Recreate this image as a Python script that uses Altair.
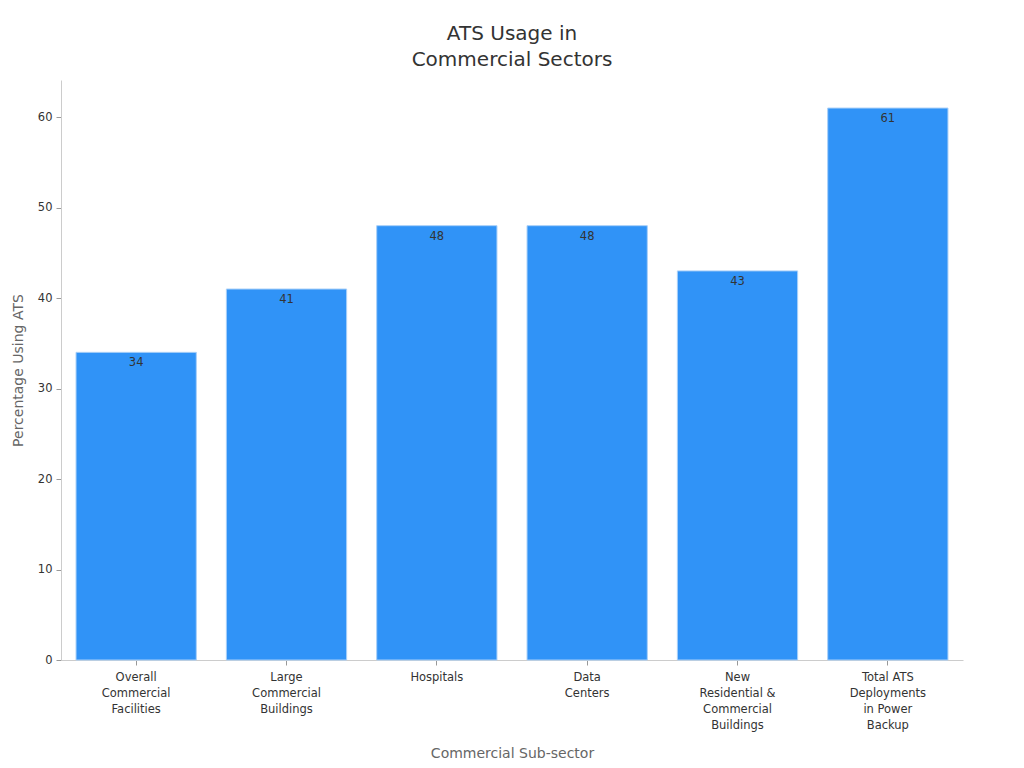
import altair as alt
import pandas as pd

categories = [
    "Overall|Commercial|Facilities",
    "Large|Commercial|Buildings",
    "Hospitals",
    "Data|Centers",
    "New|Residential &|Commercial|Buildings",
    "Total ATS|Deployments|in Power|Backup",
]
values = [34, 41, 48, 48, 43, 61]

df = pd.DataFrame({"cat": categories, "val": values})

FONT = "DejaVu Sans"

x = alt.X("cat:N", sort=categories, title="Commercial Sub-sector",
          scale=alt.Scale(paddingInner=0.2, paddingOuter=0.1),
          axis=alt.Axis(labelAngle=0, labelExpr="split(datum.label, '|')",
                        labelFontSize=11.5, labelColor="#333", labelLineHeight=16,
                        titleFontSize=14, titleColor="#666", titleFontWeight="normal",
                        titlePadding=16, domainColor="#ccc", tickColor="#999",
                        tickSize=5, labelPadding=6))
y = alt.Y("val:Q", title="Percentage Using ATS",
          scale=alt.Scale(domain=[0, 64.1], nice=False),
          axis=alt.Axis(values=[0, 10, 20, 30, 40, 50, 60], grid=False,
                        labelFontSize=11.5, labelColor="#333",
                        titleFontSize=14, titleColor="#666", titleFontWeight="normal",
                        titlePadding=12, domainColor="#ccc", tickColor="#999",
                        tickSize=5, labelPadding=4))

bars = alt.Chart(df).mark_bar(color="#3093F7", stroke="#A8CFF8", strokeWidth=1).encode(x=x, y=y)
text = alt.Chart(df).mark_text(baseline="top", dy=5, fontSize=11.5, color="#333", font=FONT).encode(
    x=alt.X("cat:N", sort=categories), y="val:Q", text="val:Q")

chart = (bars + text).properties(
    width=902, height=580,
    title=alt.Title(["ATS Usage in", "Commercial Sectors"], fontSize=20, fontWeight="normal",
                    color="#333", font=FONT, anchor="middle", offset=10, lineHeight=26),
    autosize=alt.AutoSizeParams(type="none"),
    padding={"left": 53, "top": 72, "right": 50, "bottom": 100},
).configure(font=FONT).configure_view(stroke=None)

chart.save("out.html", embed_options={"renderer": "svg", "actions": False})
